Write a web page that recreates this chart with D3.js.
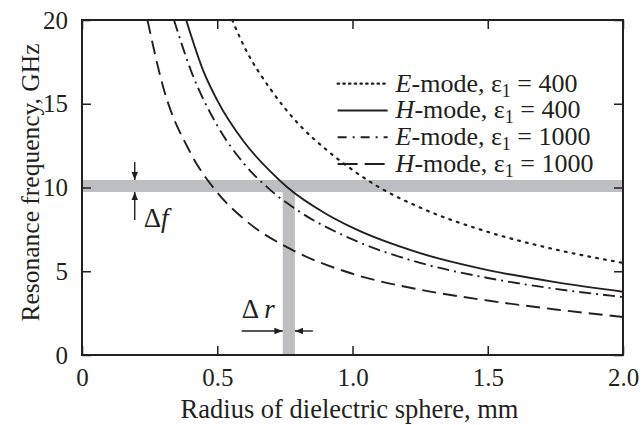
<!DOCTYPE html>
<html>
<head>
  <meta charset="utf-8">
  <title>Resonance frequency vs radius</title>
  <script src="https://d3js.org/d3.v7.min.js"></script>
  <style>
    body { margin: 0; background: #fff; }
  </style>
</head>
<body>
  <div id="chart"></div>
  <script>
    // Data (radius in mm, frequency in GHz)
    const rE400 = [0.555, 0.6, 0.7, 0.8, 0.9, 1.0, 1.1, 1.25, 1.5, 1.75, 2.0];
    const fE400 = [20, 18.4, 15.8, 13.8, 12.3, 11.05, 10.0, 8.8, 7.35, 6.3, 5.5];
    const rH400 = [0.385, 0.45, 0.5, 0.6, 0.7, 0.76, 0.9, 1.0, 1.25, 1.5, 1.75, 2.0];
    const fH400 = [20, 16.9, 15.2, 12.7, 10.9, 10.0, 8.45, 7.6, 6.08, 5.07, 4.35, 3.78];
    const rE1000 = [0.34, 0.4, 0.5, 0.6, 0.7, 0.8, 1.0, 1.25, 1.5, 1.75, 2.0];
    const fE1000 = [20, 17.1, 13.7, 11.4, 9.8, 8.6, 6.9, 5.5, 4.6, 3.95, 3.46];
    const rH1000 = [0.242, 0.3, 0.4, 0.5, 0.6, 0.78, 1.0, 1.25, 1.5, 1.75, 2.0];
    const fH1000 = [20, 16.0, 12.1, 9.7, 8.1, 6.25, 4.85, 3.9, 3.25, 2.72, 2.27];

    const bandF = [9.73, 10.45];   // horizontal grey band (GHz)
    const bandR = [0.742, 0.787];  // vertical grey band (mm)

    const xTicks = [0, 0.5, 1.0, 1.5, 2.0];
    const xTickLabels = ["0", "0.5", "1.0", "1.5", "2.0"];
    const yTicks = [0, 5, 10, 15, 20];

    const series = [
      {mode: "E", eps: "400", r: rE400, f: fE400, dash: "1.8,6.2", legDash: "1.5,4.2", cap: "round", w: 2.2},
      {mode: "H", eps: "400", r: rH400, f: fH400, dash: null, legDash: null, cap: "butt", w: 1.9},
      {mode: "E", eps: "1000", r: rE1000, f: fE1000, dash: "12,5,2,5", legDash: "9,6,2,6", cap: "butt", w: 1.9},
      {mode: "H", eps: "1000", r: rH1000, f: fH1000, dash: "14,7", legDash: "20,7", cap: "butt", w: 1.9}
    ];

    const W = 644, H = 425;
    const margin = {top: 20, right: 21, bottom: 70, left: 82};
    const width = W - margin.left - margin.right;
    const height = H - margin.top - margin.bottom;
    const ink = "#231f20";
    const grey = "#bdbec1";
    const serif = '"Liberation Serif", "Times New Roman", serif';

    const x = d3.scaleLinear().domain([0, 2]).range([0, width]);
    const y = d3.scaleLinear().domain([0, 20]).range([height, 0]);

    const svg = d3.select("#chart").append("svg")
      .attr("width", W).attr("height", H);
    const g = svg.append("g")
      .attr("transform", `translate(${margin.left},${margin.top})`);

    g.append("clipPath").attr("id", "clip")
      .append("rect").attr("width", width).attr("height", height);

    // grey bands
    g.append("rect")
      .attr("x", 0).attr("width", width)
      .attr("y", y(bandF[1])).attr("height", y(bandF[0]) - y(bandF[1]))
      .attr("fill", grey);
    g.append("rect")
      .attr("x", x(bandR[0])).attr("width", x(bandR[1]) - x(bandR[0]))
      .attr("y", y(bandF[0])).attr("height", height - y(bandF[0]))
      .attr("fill", grey);

    // curves
    const line = d3.line()
      .x(d => x(d[0])).y(d => y(d[1]))
      .curve(d3.curveMonotoneX);
    series.forEach(s => {
      g.append("path")
        .datum(s.r.map((r, i) => [r, s.f[i]]))
        .attr("clip-path", "url(#clip)")
        .attr("fill", "none")
        .attr("stroke", ink)
        .attr("stroke-width", s.w)
        .attr("stroke-linecap", s.cap)
        .attr("stroke-dasharray", s.dash)
        .attr("d", line);
    });

    // axes (ticks inward, mirrored on top and right)
    const tk = 9;
    function styleAxis(sel) {
      sel.attr("font-family", null).attr("font-size", null);
      sel.select(".domain").remove();
      sel.selectAll(".tick line").attr("stroke", ink).attr("stroke-width", 1.5);
      sel.selectAll(".tick text").attr("font-size", 25).attr("fill", ink);
    }
    g.append("g").attr("transform", `translate(0,${height})`)
      .call(d3.axisBottom(x).tickValues(xTicks).tickSizeInner(-tk).tickSizeOuter(0)
        .tickPadding(13).tickFormat((d, i) => xTickLabels[i]))
      .call(styleAxis);
    g.append("g")
      .call(d3.axisTop(x).tickValues(xTicks).tickSizeInner(-tk).tickSizeOuter(0).tickFormat(""))
      .call(styleAxis);
    g.append("g")
      .call(d3.axisLeft(y).tickValues(yTicks).tickSizeInner(-tk).tickSizeOuter(0).tickPadding(14))
      .call(styleAxis);
    g.append("g").attr("transform", `translate(${width},0)`)
      .call(d3.axisRight(y).tickValues(yTicks).tickSizeInner(-tk).tickSizeOuter(0).tickFormat(""))
      .call(styleAxis);

    g.append("rect")
      .attr("width", width).attr("height", height)
      .attr("fill", "none").attr("stroke", ink).attr("stroke-width", 2);

    // axis titles
    g.append("text")
      .attr("x", width / 2 - 3).attr("y", height + 63)
      .attr("text-anchor", "middle").attr("font-size", 26.5)
      .text("Radius of dielectric sphere, mm");
    g.append("text")
      .attr("transform", `translate(${-43},${height / 2 - 5}) rotate(-90)`)
      .attr("text-anchor", "middle").attr("font-size", 25.5)
      .text("Resonance frequency, GHz");

    // legend
    const legend = g.append("g").attr("transform", `translate(${x(0.945)},${y(16.2)})`);
    series.forEach((s, i) => {
      const row = legend.append("g").attr("transform", `translate(0,${i * 26.8})`);
      row.append("line")
        .attr("x1", 0).attr("x2", 50).attr("y1", 0).attr("y2", 0)
        .attr("stroke", ink).attr("stroke-width", s.w)
        .attr("stroke-linecap", s.cap)
        .attr("stroke-dasharray", s.legDash);
      const t = row.append("text").attr("x", 58).attr("y", 8).attr("font-size", 26);
      t.append("tspan").attr("font-style", "italic").text(s.mode);
      t.append("tspan").text("-mode, ε");
      t.append("tspan").attr("font-size", 18).attr("dy", 5).text("1");
      t.append("tspan").attr("dy", -5).text(" = " + s.eps);
    });

    // arrowheads
    svg.append("defs").append("marker")
      .attr("id", "head").attr("viewBox", "0 0 10 10")
      .attr("refX", 10).attr("refY", 5)
      .attr("markerWidth", 6).attr("markerHeight", 6)
      .attr("markerUnits", "strokeWidth")
      .attr("orient", "auto")
      .append("path").attr("d", "M0,1 L10,5 L0,9 Z").attr("fill", ink);
    function arrow(x1, y1, x2, y2) {
      g.append("line").attr("x1", x1).attr("y1", y1).attr("x2", x2).attr("y2", y2)
        .attr("stroke", ink).attr("stroke-width", 1.4)
        .attr("marker-end", "url(#head)");
    }

    // Δf annotation
    const ax = x(0.195);
    arrow(ax, y(bandF[1]) - 18, ax, y(bandF[1]));
    arrow(ax, y(bandF[0]) + 28, ax, y(bandF[0]));
    const df = g.append("text").attr("x", ax + 9).attr("y", y(bandF[0]) + 35).attr("font-size", 27);
    df.append("tspan").text("Δ");
    df.append("tspan").attr("font-style", "italic").text("f");

    // Δr annotation
    const ay = height - 24;
    arrow(x(bandR[0]) - 41, ay, x(bandR[0]), ay);
    arrow(x(bandR[1]) + 18, ay, x(bandR[1]), ay);
    const dr = g.append("text").attr("x", x(bandR[0]) - 41).attr("y", ay - 13).attr("font-size", 27);
    dr.append("tspan").text("Δ ");
    dr.append("tspan").attr("font-style", "italic").text("r");

    svg.selectAll("text").style("font-family", serif).attr("fill", ink);
  </script>
</body>
</html>
